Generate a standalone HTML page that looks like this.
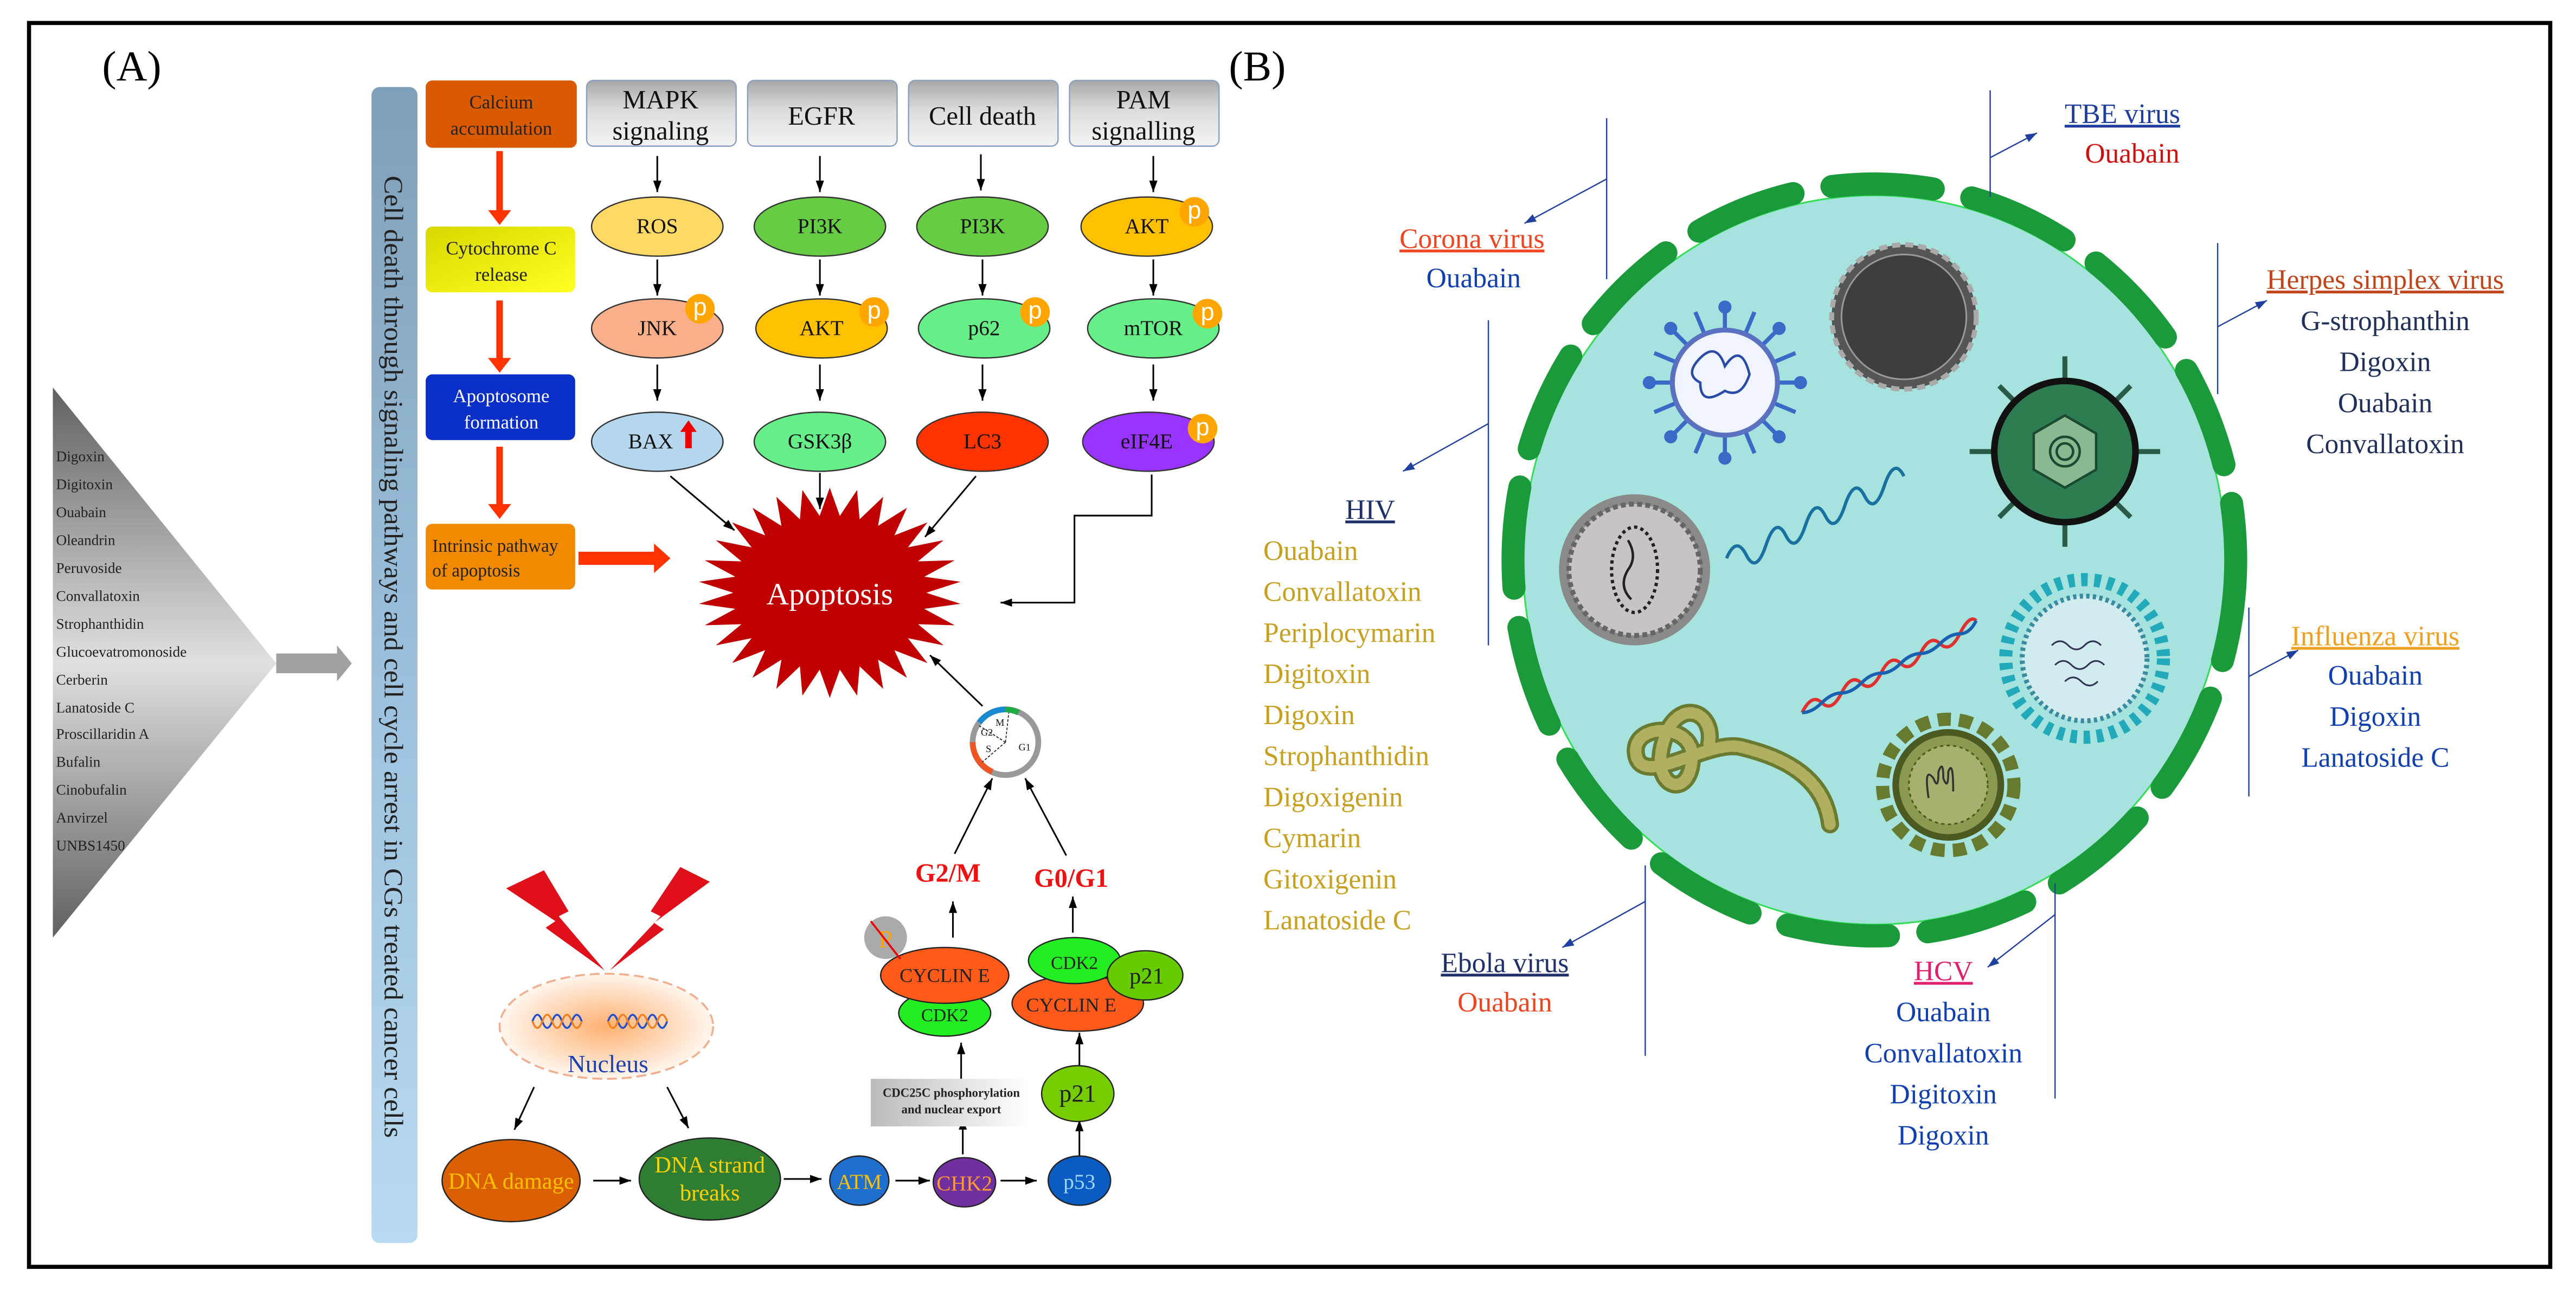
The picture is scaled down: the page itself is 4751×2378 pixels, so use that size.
<!DOCTYPE html>
<html><head><meta charset="utf-8"><style>
html,body{margin:0;padding:0;background:#fff}
svg{display:block}
text{font-family:"Liberation Serif",serif}
</style></head><body>
<svg width="4751" height="2378" viewBox="0 0 1568 785" xmlns="http://www.w3.org/2000/svg">
<defs>
<marker id="ah" markerWidth="8" markerHeight="8" refX="7" refY="4" orient="auto" markerUnits="userSpaceOnUse"><path d="M0,1.5 L7,4 L0,6.5 z" fill="#000"/></marker>
<marker id="ahb" markerWidth="8" markerHeight="8" refX="7" refY="4" orient="auto" markerUnits="userSpaceOnUse"><path d="M0,1.5 L7,4 L0,6.5 z" fill="#2040a0"/></marker>
<linearGradient id="hdr" x1="0" y1="0" x2="0" y2="1"><stop offset="0" stop-color="#a8a8a8"/><stop offset="0.45" stop-color="#dcdcdc"/><stop offset="1" stop-color="#f4f4f4"/></linearGradient>
<linearGradient id="bar" x1="0" y1="0" x2="0" y2="1"><stop offset="0" stop-color="#7f9fb8"/><stop offset="0.5" stop-color="#9cc0dc"/><stop offset="1" stop-color="#b8daf0"/></linearGradient>
<linearGradient id="tri" x1="0" y1="0" x2="0" y2="1"><stop offset="0" stop-color="#606060"/><stop offset="0.5" stop-color="#e0e0e0"/><stop offset="1" stop-color="#606060"/></linearGradient>
<linearGradient id="cyt" x1="0" y1="0" x2="1" y2="1"><stop offset="0" stop-color="#d8d800"/><stop offset="1" stop-color="#ffff20"/></linearGradient>
<linearGradient id="cdc" x1="0" y1="0" x2="1" y2="0"><stop offset="0" stop-color="#bbb"/><stop offset="1" stop-color="#fff"/></linearGradient>
<radialGradient id="nuc"><stop offset="0" stop-color="#ffb070"/><stop offset="1" stop-color="#fff6ee"/></radialGradient>
<polygon id="sp" points="0,-80 -8,-52 8,-52" fill="#c00000"/>
</defs>
<rect x="17.5" y="14" width="1535" height="757.5" fill="#fff" stroke="#000" stroke-width="2.5"/>
<text x="62" y="49" font-size="26">(A)</text>
<text x="748" y="49" font-size="26">(B)</text>

<polygon points="32,236 168,404 32,571" fill="url(#tri)"/>
<polygon points="168,398 205,398 205,393 214,404 205,415 205,410 168,410" fill="#a0a0a0"/>
<g font-size="9" fill="#222">
<text x="34" y="281">Digoxin</text><text x="34" y="298">Digitoxin</text><text x="34" y="315">Ouabain</text><text x="34" y="332">Oleandrin</text><text x="34" y="349">Peruvoside</text><text x="34" y="366">Convallatoxin</text><text x="34" y="383">Strophanthidin</text><text x="34" y="400">Glucoevatromonoside</text><text x="34" y="417">Cerberin</text><text x="34" y="434">Lanatoside C</text><text x="34" y="450">Proscillaridin A</text><text x="34" y="467">Bufalin</text><text x="34" y="484">Cinobufalin</text><text x="34" y="501">Anvirzel</text><text x="34" y="518">UNBS1450</text>
</g>

<rect x="226" y="53" width="28" height="704" rx="5" fill="url(#bar)"/>
<text transform="translate(234,107) rotate(90)" font-size="16" fill="#222" textLength="586" lengthAdjust="spacingAndGlyphs">Cell death through signaling pathways and cell cycle arrest in CGs treated cancer cells</text>

<rect x="259" y="49" width="92" height="41" rx="4" fill="#d95a00"/>
<text x="305" y="66" font-size="11.5" text-anchor="middle" fill="#222">Calcium</text><text x="305" y="82" font-size="11.5" text-anchor="middle" fill="#222">accumulation</text>
<rect x="259" y="138" width="91" height="40" rx="4" fill="url(#cyt)"/>
<text x="305" y="155" font-size="11.5" text-anchor="middle" fill="#222">Cytochrome C</text><text x="305" y="171" font-size="11.5" text-anchor="middle" fill="#222">release</text>
<rect x="259" y="228" width="91" height="40" rx="4" fill="#0a2ec8"/>
<text x="305" y="245" font-size="11.5" text-anchor="middle" fill="#fff">Apoptosome</text><text x="305" y="261" font-size="11.5" text-anchor="middle" fill="#fff">formation</text>
<rect x="259" y="319" width="91" height="40" rx="4" fill="#f28a00"/>
<text x="263" y="336" font-size="11" fill="#222">Intrinsic pathway</text><text x="263" y="351" font-size="11" fill="#222">of apoptosis</text>
<g fill="#ff3300">
<polygon points="302,92 306,92 306,128 311,128 304,137 297,128 302,128"/>
<polygon points="302,183 306,183 306,218 311,218 304,227 297,218 302,218"/>
<polygon points="302,272 306,272 306,307 311,307 304,316 297,307 302,307"/>
<polygon points="352,336 398,336 398,331 408,340 398,349 398,344 352,344"/>
</g>

<g stroke="#8aa0c0" stroke-width="0.8" fill="url(#hdr)">
<rect x="357" y="49" width="91" height="40" rx="4"/><rect x="455" y="49" width="91" height="40" rx="4"/><rect x="553" y="49" width="91" height="40" rx="4"/><rect x="651" y="49" width="91" height="40" rx="4"/>
</g>
<g font-size="16" text-anchor="middle" fill="#111">
<text x="402" y="66">MAPK</text><text x="402" y="85">signaling</text>
<text x="500" y="76">EGFR</text>
<text x="598" y="76">Cell death</text>
<text x="696" y="66">PAM</text><text x="696" y="85">signalling</text>
</g>
<g stroke="#000" stroke-width="1" marker-end="url(#ah)">
<line x1="400" y1="95" x2="400" y2="117"/><line x1="499" y1="95" x2="499" y2="117"/><line x1="597" y1="94" x2="597" y2="116"/><line x1="702" y1="95" x2="702" y2="117"/>
<line x1="400" y1="158" x2="400" y2="180"/><line x1="499" y1="158" x2="499" y2="180"/><line x1="598" y1="158" x2="598" y2="180"/><line x1="702" y1="158" x2="702" y2="180"/>
<line x1="400" y1="222" x2="400" y2="244"/><line x1="499" y1="222" x2="499" y2="244"/><line x1="598" y1="222" x2="598" y2="244"/><line x1="702" y1="222" x2="702" y2="244"/>
<line x1="408" y1="290" x2="447" y2="323"/><line x1="499" y1="288" x2="499" y2="310"/><line x1="594" y1="290" x2="563" y2="327"/>
<polyline points="701,289 701,314 654,314 654,367 609,367" fill="none"/>
</g>
<g stroke="#333" stroke-width="0.8">
<ellipse cx="400" cy="138" rx="40" ry="18" fill="#ffd966"/><ellipse cx="499" cy="138" rx="40" ry="18" fill="#66cc44"/><ellipse cx="598" cy="138" rx="40" ry="18" fill="#66cc44"/><ellipse cx="698" cy="138" rx="40" ry="18" fill="#ffc000"/>
<ellipse cx="400" cy="200" rx="40" ry="18" fill="#f9b08a"/><ellipse cx="500" cy="200" rx="40" ry="18" fill="#ffc000"/><ellipse cx="599" cy="200" rx="40" ry="18" fill="#66ee88"/><ellipse cx="702" cy="200" rx="40" ry="18" fill="#66ee88"/>
<ellipse cx="400" cy="269" rx="40" ry="18" fill="#b4d7ee"/><ellipse cx="499" cy="269" rx="40" ry="18" fill="#66ee88"/><ellipse cx="598" cy="269" rx="40" ry="18" fill="#ff3300"/><ellipse cx="699" cy="269" rx="40" ry="18" fill="#9933ff"/>
</g>
<g font-size="13" text-anchor="middle" fill="#111">
<text x="400" y="142">ROS</text><text x="499" y="142">PI3K</text><text x="598" y="142">PI3K</text><text x="698" y="142">AKT</text>
<text x="400" y="204">JNK</text><text x="500" y="204">AKT</text><text x="599" y="204">p62</text><text x="702" y="204">mTOR</text>
<text x="396" y="273">BAX</text><text x="499" y="273">GSK3β</text><text x="598" y="273">LC3</text><text x="698" y="273">eIF4E</text>
</g>
<polygon points="417,273 417,263 414,263 419,256 424,263 421,263 421,273" fill="#e00"/>
<g fill="#ffa500"><circle cx="727" cy="129" r="9"/><circle cx="426" cy="188" r="9"/><circle cx="532" cy="190" r="9"/><circle cx="630" cy="190" r="9"/><circle cx="735" cy="191" r="9"/><circle cx="732" cy="261" r="9"/></g>
<g font-size="15" fill="#fff" text-anchor="middle"><text x="727" y="133" style="font-family:'Liberation Sans',sans-serif">p</text><text x="426" y="192" style="font-family:'Liberation Sans',sans-serif">p</text><text x="532" y="194" style="font-family:'Liberation Sans',sans-serif">p</text><text x="630" y="194" style="font-family:'Liberation Sans',sans-serif">p</text><text x="735" y="195" style="font-family:'Liberation Sans',sans-serif">p</text><text x="732" y="265" style="font-family:'Liberation Sans',sans-serif">p</text></g>

<g transform="translate(505,361) scale(1,0.8)">
<ellipse cx="0" cy="0" rx="56" ry="56" fill="#c00000"/>
<use href="#sp" transform="rotate(0)"/><use href="#sp" transform="rotate(12)"/><use href="#sp" transform="rotate(24)"/><use href="#sp" transform="rotate(36)"/><use href="#sp" transform="rotate(48)"/><use href="#sp" transform="rotate(60)"/><use href="#sp" transform="rotate(72)"/><use href="#sp" transform="rotate(84)"/><use href="#sp" transform="rotate(96)"/><use href="#sp" transform="rotate(108)"/><use href="#sp" transform="rotate(120)"/><use href="#sp" transform="rotate(132)"/><use href="#sp" transform="rotate(144)"/><use href="#sp" transform="rotate(156)"/><use href="#sp" transform="rotate(168)"/><use href="#sp" transform="rotate(180)"/><use href="#sp" transform="rotate(192)"/><use href="#sp" transform="rotate(204)"/><use href="#sp" transform="rotate(216)"/><use href="#sp" transform="rotate(228)"/><use href="#sp" transform="rotate(240)"/><use href="#sp" transform="rotate(252)"/><use href="#sp" transform="rotate(264)"/><use href="#sp" transform="rotate(276)"/><use href="#sp" transform="rotate(288)"/><use href="#sp" transform="rotate(300)"/><use href="#sp" transform="rotate(312)"/><use href="#sp" transform="rotate(324)"/><use href="#sp" transform="rotate(336)"/><use href="#sp" transform="rotate(348)"/>
</g>
<text x="505" y="368" font-size="19" fill="#fff" text-anchor="middle">Apoptosis</text>

<circle cx="612" cy="452" r="20" fill="#fff" stroke="#999" stroke-width="3.5"/>
<path d="M596,440 A20,20 0 0 1 612,432" fill="none" stroke="#1a8ad0" stroke-width="3.5"/>
<path d="M612,432 A20,20 0 0 1 620,434" fill="none" stroke="#22aa44" stroke-width="3.5"/>
<path d="M592,452 A20,20 0 0 0 604,470" fill="none" stroke="#ee5522" stroke-width="3.5"/>
<g stroke="#000" stroke-width="0.5" stroke-dasharray="1.5,1"><line x1="612" y1="452" x2="614" y2="434"/><line x1="612" y1="452" x2="596" y2="442"/><line x1="612" y1="452" x2="598" y2="464"/></g>
<g font-size="6" fill="#111"><text x="606" y="442">M</text><text x="597" y="448">G2</text><text x="600" y="458">S</text><text x="620" y="457">G1</text></g>
<g stroke="#000" stroke-width="1" marker-end="url(#ah)">
<line x1="598" y1="430" x2="566" y2="399"/>
<line x1="581" y1="520" x2="604" y2="474"/><line x1="649" y1="521" x2="624" y2="474"/>
<line x1="580" y1="571" x2="580" y2="549"/><line x1="653" y1="568" x2="653" y2="546"/>
<line x1="585" y1="657" x2="585" y2="635"/><line x1="657" y1="651" x2="657" y2="629"/>
<line x1="586" y1="703" x2="586" y2="681"/><line x1="657" y1="704" x2="657" y2="682"/>
<line x1="361" y1="719" x2="384" y2="719"/><line x1="477" y1="718" x2="500" y2="718"/><line x1="545" y1="719" x2="566" y2="719"/><line x1="609" y1="719" x2="631" y2="719"/>
<line x1="325" y1="662" x2="313" y2="688"/><line x1="406" y1="662" x2="419" y2="687"/>
</g>
<g font-size="16" font-weight="bold" fill="#ee1111" text-anchor="middle"><text x="577" y="537">G2/M</text><text x="652" y="540">G0/G1</text></g>

<ellipse cx="575" cy="617" rx="28" ry="14" fill="#22ee22" stroke="#222" stroke-width="0.8"/>
<ellipse cx="575" cy="594" rx="39" ry="17" fill="#ff5a1a" stroke="#222" stroke-width="0.8"/>
<circle cx="539" cy="571" r="13" fill="#aaa"/>
<text x="539" y="577" font-size="15" fill="#ffa500" text-anchor="middle">P</text>
<line x1="530" y1="561" x2="548" y2="584" stroke="#e00" stroke-width="1.2"/>
<text x="575" y="598" font-size="12" text-anchor="middle" fill="#222">CYCLIN E</text>
<text x="575" y="622" font-size="11" text-anchor="middle" fill="#222">CDK2</text>
<ellipse cx="656" cy="611" rx="40" ry="17" fill="#ff5a1a" stroke="#222" stroke-width="0.8"/>
<ellipse cx="654" cy="585" rx="28" ry="14" fill="#22ee22" stroke="#222" stroke-width="0.8"/>
<ellipse cx="697" cy="594" rx="23" ry="15" fill="#66cc00" stroke="#222" stroke-width="0.8"/>
<text x="654" y="590" font-size="11" text-anchor="middle" fill="#222">CDK2</text>
<text x="652" y="616" font-size="12" text-anchor="middle" fill="#222">CYCLIN E</text>
<text x="698" y="599" font-size="14" text-anchor="middle" fill="#222">p21</text>
<rect x="530" y="657" width="96" height="29" fill="url(#cdc)"/>
<text x="579" y="668" font-size="7.5" text-anchor="middle" font-weight="bold" fill="#222">CDC25C phosphorylation</text>
<text x="579" y="678" font-size="7.5" text-anchor="middle" font-weight="bold" fill="#222">and nuclear export</text>
<ellipse cx="656" cy="666" rx="22" ry="17" fill="#77cc00" stroke="#222" stroke-width="0.8"/>
<text x="656" y="671" font-size="15" text-anchor="middle" fill="#222">p21</text>

<ellipse cx="311" cy="719" rx="42" ry="25" fill="#d95f00" stroke="#222" stroke-width="0.8"/>
<text x="311" y="724" font-size="14" text-anchor="middle" fill="#ffc000">DNA damage</text>
<ellipse cx="432" cy="718" rx="43" ry="25" fill="#2e7d32" stroke="#222" stroke-width="0.8"/>
<text x="432" y="714" font-size="14" text-anchor="middle" fill="#ffd000">DNA strand</text><text x="432" y="731" font-size="14" text-anchor="middle" fill="#ffd000">breaks</text>
<ellipse cx="523" cy="719" rx="18" ry="15" fill="#1f6fcf" stroke="#222" stroke-width="0.8"/>
<text x="523" y="724" font-size="13" text-anchor="middle" fill="#ffc000">ATM</text>
<ellipse cx="587" cy="720" rx="19" ry="15" fill="#7030a0" stroke="#222" stroke-width="0.8"/>
<text x="587" y="725" font-size="13" text-anchor="middle" fill="#ff9a30">CHK2</text>
<ellipse cx="657" cy="719" rx="19" ry="15" fill="#0a5cc2" stroke="#222" stroke-width="0.8"/>
<text x="657" y="724" font-size="13" text-anchor="middle" fill="#9fd8ff">p53</text>

<ellipse cx="369" cy="625" rx="65" ry="32" fill="url(#nuc)" stroke="#f0b090" stroke-width="1.2" stroke-dasharray="6,3"/>
<path d="M324,622 q3,-8 6,0 t6,0 t6,0 t6,0 t6,0" fill="none" stroke="#2050d0" stroke-width="1.2"/>
<path d="M324,622 q3,8 6,0 t6,0 t6,0 t6,0 t6,0" fill="none" stroke="#f08020" stroke-width="1.2"/>
<path d="M370,622 q3,-8 6,0 t6,0 t6,0 t6,0 t6,0 t6,0" fill="none" stroke="#2050d0" stroke-width="1.2"/>
<path d="M370,622 q3,8 6,0 t6,0 t6,0 t6,0 t6,0 t6,0" fill="none" stroke="#f08020" stroke-width="1.2"/>
<text x="370" y="653" font-size="15" text-anchor="middle" fill="#1a3fb0">Nucleus</text>
<polygon points="308,541 331,530 346,555 340,558 368,591 332,565 338,561" fill="#e0101a"/>
<polygon points="432,537 414,528 396,555 402,558 371,591 404,566 398,562" fill="#e0101a"/>

<!-- Panel B -->
<ellipse cx="1141" cy="341" rx="214" ry="222" fill="#a6e3df" stroke="#33dd55" stroke-width="1"/>
<ellipse cx="1141" cy="341" rx="220" ry="229" fill="none" stroke="#1a9a3a" stroke-width="14" stroke-linecap="round" stroke-dasharray="62,24"/>

<g transform="translate(1050,233)">
<g stroke="#3a6ac8" stroke-width="2.5"><line x1="0" y1="-46" x2="0" y2="46"/><line x1="-46" y1="0" x2="46" y2="0"/><line x1="-33" y1="-33" x2="33" y2="33"/><line x1="-33" y1="33" x2="33" y2="-33"/><line x1="-18" y1="-43" x2="18" y2="43"/><line x1="-43" y1="-18" x2="43" y2="18"/><line x1="-18" y1="43" x2="18" y2="-43"/><line x1="-43" y1="18" x2="43" y2="-18"/></g>
<circle r="32" fill="#f0f4ff" stroke="#5a70c0" stroke-width="3"/>
<g fill="#3a6ac8"><circle cx="0" cy="-46" r="4"/><circle cx="0" cy="46" r="4"/><circle cx="-46" cy="0" r="4"/><circle cx="46" cy="0" r="4"/><circle cx="33" cy="33" r="4"/><circle cx="-33" cy="33" r="4"/><circle cx="33" cy="-33" r="4"/><circle cx="-33" cy="-33" r="4"/></g>
<path d="M-15,-15 q10,-10 15,5 q10,-15 15,5 q-5,15 -15,10 q-15,10 -15,-5 q-10,-5 0,-15z" fill="none" stroke="#2a4aa8" stroke-width="1.5"/>
</g>
<g transform="translate(1159,193)">
<circle r="44" fill="#555" stroke="#aaa" stroke-width="3" stroke-dasharray="5,3"/>
<circle r="38" fill="#3e3e3e" stroke="#999" stroke-width="1"/>
</g>
<g transform="translate(1257,275)">
<g stroke="#2a5a48" stroke-width="3"><line x1="0" y1="-58" x2="0" y2="58"/><line x1="-58" y1="0" x2="58" y2="0"/><line x1="-40" y1="-40" x2="40" y2="40"/><line x1="-40" y1="40" x2="40" y2="-40"/></g>
<circle r="43" fill="#2e7d52" stroke="#111" stroke-width="4"/>
<polygon points="0,-22 19,-11 19,11 0,22 -19,11 -19,-11" fill="#8ab890" stroke="#1a4a30" stroke-width="1.5"/>
<circle r="9" fill="none" stroke="#1a4a30" stroke-width="1.5"/><circle r="5" fill="none" stroke="#1a4a30" stroke-width="1.5"/>
</g>
<g transform="translate(995,347)">
<circle r="46" fill="#8a8a8a"/><circle r="40" fill="#c8c4c4" stroke="#666" stroke-width="3" stroke-dasharray="3,2"/>
<ellipse rx="14" ry="26" fill="none" stroke="#222" stroke-width="2" stroke-dasharray="2,2"/>
<path d="M-4,-18 q6,10 0,18 q-6,10 2,18" fill="none" stroke="#222" stroke-width="1.5"/>
</g>
<path d="M1051,340 q6,-14 12,-2 t12,-6 t12,-6 t12,-6 t12,-6 t12,-6 t12,-6 t12,-6 t12,-6" fill="none" stroke="#1a70a0" stroke-width="2"/>
<g transform="translate(1269,401)">
<circle r="48" fill="none" stroke="#22aabb" stroke-width="8" stroke-dasharray="4,4"/>
<circle r="38" fill="#d0ecef" stroke="#3a8aa0" stroke-width="3" stroke-dasharray="2,2"/>
<path d="M-20,-8 q5,-5 10,0 t10,0 t10,0 M-18,4 q5,-5 10,0 t10,0 t10,0 M-12,14 q5,-5 10,0 t10,0" fill="none" stroke="#335" stroke-width="1"/>
</g>
<path d="M1097,434 q6,-12 12,-6 t12,-6 t12,-6 t12,-6 t12,-6 t12,-6 t12,-6 t12,-6 t10,-8" fill="none" stroke="#e03030" stroke-width="2"/>
<path d="M1097,434 q6,0 12,-6 t12,-6 t12,-6 t12,-6 t12,-6 t12,-6 t12,-6 t12,-6 t10,-8" fill="none" stroke="#1a60b0" stroke-width="2"/>
<g transform="translate(1186,478)">
<circle r="40" fill="none" stroke="#667a30" stroke-width="8" stroke-dasharray="8,5"/>
<circle r="32" fill="#8a9a50" stroke="#4a5a20" stroke-width="4"/>
<circle r="24" fill="#a8b070" stroke="#4a5a20" stroke-width="1" stroke-dasharray="2,2"/>
<path d="M-12,8 q-3,-20 3,-12 q3,8 3,-4 q3,-8 3,4 q3,8 3,-4 q3,-8 3,12" fill="none" stroke="#333" stroke-width="1.2"/>
</g>
<path d="M1114,502 C1110,470 1080,460 1060,455 C1040,450 1000,480 996,460 C992,440 1030,440 1030,460 C1030,490 1000,480 1015,445 C1025,425 1045,435 1040,455" fill="none" stroke="#6a7a30" stroke-width="11" stroke-linecap="round"/>
<path d="M1114,502 C1110,470 1080,460 1060,455 C1040,450 1000,480 996,460 C992,440 1030,440 1030,460 C1030,490 1000,480 1015,445 C1025,425 1045,435 1040,455" fill="none" stroke="#b0b060" stroke-width="7" stroke-linecap="round" stroke-dasharray="2,2"/>

<g stroke="#2040a0" stroke-width="0.8" fill="none">
<line x1="1211.5" y1="55" x2="1211.5" y2="120"/><line x1="1211.5" y1="96" x2="1240" y2="81" marker-end="url(#ahb)"/>
<line x1="978" y1="72" x2="978" y2="170"/><line x1="978" y1="109" x2="928" y2="136" marker-end="url(#ahb)"/>
<line x1="1350" y1="148" x2="1350" y2="240"/><line x1="1350" y1="199" x2="1380" y2="183" marker-end="url(#ahb)"/>
<line x1="906" y1="195" x2="906" y2="393"/><line x1="906" y1="258" x2="854" y2="287" marker-end="url(#ahb)"/>
<line x1="1369" y1="370" x2="1369" y2="485"/><line x1="1369" y1="412" x2="1399" y2="396" marker-end="url(#ahb)"/>
<line x1="1001.5" y1="527" x2="1001.5" y2="643"/><line x1="1001.5" y1="549" x2="951" y2="577" marker-end="url(#ahb)"/>
<line x1="1251" y1="538" x2="1251" y2="669"/><line x1="1251" y1="557" x2="1210" y2="589" marker-end="url(#ahb)"/>
</g>
<g font-size="17" text-anchor="middle">
<text x="1292" y="75" fill="#1f3fa0" text-decoration="underline">TBE virus</text>
<text x="1298" y="99" fill="#d01010">Ouabain</text>
<text x="896" y="151" fill="#ee4420" text-decoration="underline">Corona virus</text>
<text x="897" y="175" fill="#1040b0">Ouabain</text>
<text x="1452" y="176" fill="#c0451a" text-decoration="underline">Herpes simplex virus</text>
<g fill="#1f2f5a"><text x="1452" y="201">G-strophanthin</text><text x="1452" y="226">Digoxin</text><text x="1452" y="251">Ouabain</text><text x="1452" y="276">Convallatoxin</text></g>
<text x="834" y="316" fill="#1f2f6a" text-decoration="underline">HIV</text>
<text x="1446" y="393" fill="#f0a020" text-decoration="underline">Influenza virus</text>
<g fill="#1040b0"><text x="1446" y="417">Ouabain</text><text x="1446" y="442">Digoxin</text><text x="1446" y="467">Lanatoside C</text></g>
<text x="916" y="592" fill="#1f2f6a" text-decoration="underline">Ebola virus</text>
<text x="916" y="616" fill="#ee4420">Ouabain</text>
<text x="1183" y="597" fill="#e0206f" text-decoration="underline">HCV</text>
<g fill="#1040b0"><text x="1183" y="622">Ouabain</text><text x="1183" y="647">Convallatoxin</text><text x="1183" y="672">Digitoxin</text><text x="1183" y="697">Digoxin</text></g>
</g>
<g font-size="17" fill="#c8a020">
<text x="769" y="341">Ouabain</text><text x="769" y="366">Convallatoxin</text><text x="769" y="391">Periplocymarin</text><text x="769" y="416">Digitoxin</text><text x="769" y="441">Digoxin</text><text x="769" y="466">Strophanthidin</text><text x="769" y="491">Digoxigenin</text><text x="769" y="516">Cymarin</text><text x="769" y="541">Gitoxigenin</text><text x="769" y="566">Lanatoside C</text>
</g>
</svg>
</body></html>
